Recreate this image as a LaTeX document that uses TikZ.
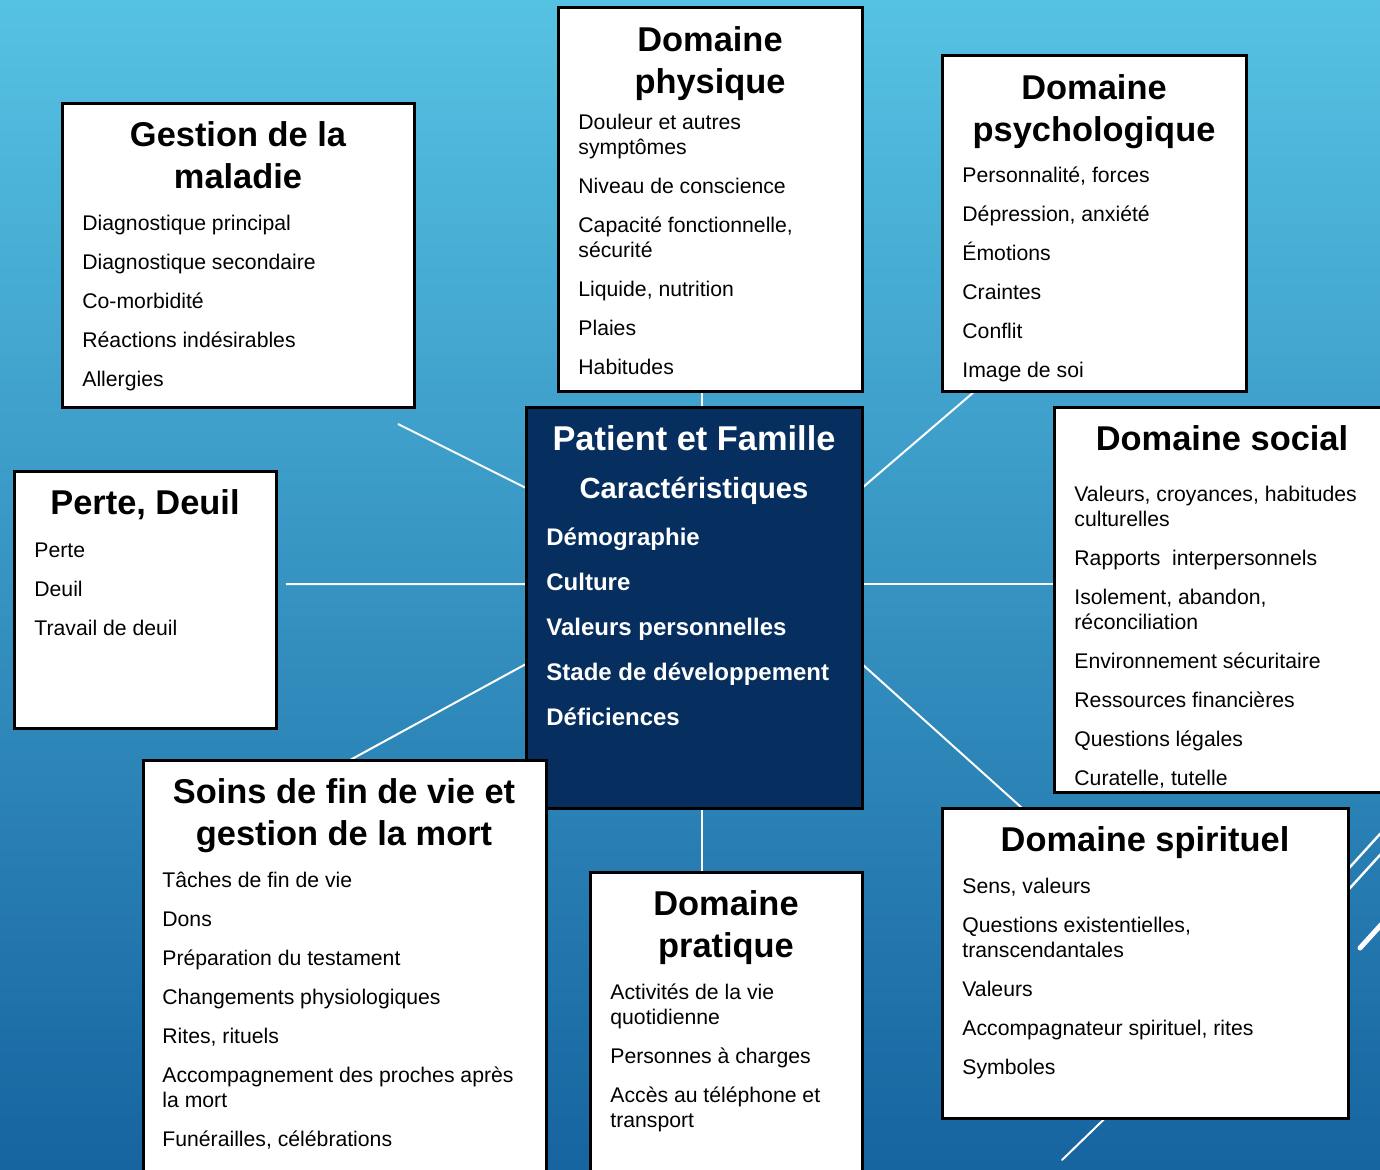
\documentclass[tikz,border=0pt]{standalone}
\usepackage{fontspec}
\setmainfont{Liberation Sans}
\usetikzlibrary{calc}
\pgfdeclarelayer{back}
\pgfdeclarelayer{lines}
\pgfsetlayers{back,lines,main}
\definecolor{bgtop}{RGB}{86,194,227}
\definecolor{bgbot}{RGB}{22,100,160}
\definecolor{navy}{RGB}{6,46,94}
\newcommand\mytitlefont{\fontsize{17.2pt}{21pt}\selectfont\bfseries}
\newcommand\mybodyfont{\fontsize{10.6pt}{12.5pt}\selectfont}
\newcommand\mysubfont{\fontsize{14.6pt}{17pt}\selectfont\bfseries}
\newcommand\mycenterfont{\fontsize{12pt}{22.5pt}\selectfont\bfseries}
\begin{document}
\begin{tikzpicture}[x=0.5pt,y=-0.5pt,
  box/.style={draw=black,line width=1.5pt,fill=white,inner sep=0pt,outer sep=0pt,anchor=north west},
  ctrbox/.style={box,fill=navy},
  ttl/.style={anchor=base,align=center,font=\mytitlefont,inner sep=0pt},
  items/.style={anchor=base west,align=left,font=\mybodyfont,inner sep=0pt},
  conn/.style={draw=white,line width=1pt},
  deco/.style={draw=white,line width=1.2pt}]
\useasboundingbox (0,0) rectangle (1380,1170);
\begin{pgfonlayer}{back}
\shade[top color=bgtop,bottom color=bgbot] (0,0) rectangle (1380,1170);
\end{pgfonlayer}
\clip (0,0) rectangle (1380,1170);
% decorative lines
\draw[deco] (1300,922) -- (1400,812);
\draw[deco] (1300,943) -- (1400,833);
\draw[deco,line width=2.5pt,line cap=round] (1360,948) -- (1400,904);
\draw[deco,line width=1pt,line cap=round] (1062,1160) -- (1130,1094);
% boxes
\node[box,minimum width=176pt,minimum height=152pt] (gest) at (62,104) {};
\node[box,minimum width=152pt,minimum height=192pt] (phys) at (558,8) {};
\node[box,minimum width=152pt,minimum height=168pt] (psy) at (942,56) {};
\node[box,minimum width=168pt,minimum height=192pt] (soc) at (1054,408) {};
\node[box,minimum width=131pt,minimum height=128pt] (perte) at (14,472) {};
\node[ctrbox,minimum width=168pt,minimum height=200pt] (ctr) at (526,408) {};
\node[box,minimum width=201.5pt,minimum height=215pt] (soins) at (143,760) {};
\node[box,minimum width=136pt,minimum height=159pt] (prat) at (590,872) {};
\node[box,minimum width=203pt,minimum height=155pt] (spir) at (942,808) {};
% texts (anchors at the baseline of the last line)
\node[ttl] (gestT) at (238,189) {Gestion de la\\maladie};
\node[items] (gestI) at (82,387) {Diagnostique principal\\[7pt]Diagnostique secondaire\\[7pt]Co-morbidité\\[7pt]Réactions indésirables\\[7pt]Allergies};
\node[ttl] (physT) at (710,94) {Domaine\\physique};
\node[items] (physI) at (578,375) {Douleur et autres\\symptômes\\[7pt]Niveau de conscience\\[7pt]Capacité fonctionnelle,\\sécurité\\[7pt]Liquide, nutrition\\[7pt]Plaies\\[7pt]Habitudes};
\node[ttl] (psyT) at (1094,142) {Domaine\\psychologique};
\node[items] (psyI) at (962,378) {Personnalité, forces\\[7pt]Dépression, anxiété\\[7pt]Émotions\\[7pt]Craintes\\[7pt]Conflit\\[7pt]Image de soi};
\node[ttl] (socT) at (1222,451) {Domaine social};
\node[items] (socI) at (1074,785) {Valeurs, croyances, habitudes\\culturelles\\[7pt]Rapports~ interpersonnels\\[7pt]Isolement, abandon,\\réconciliation\\[7pt]Environnement sécuritaire\\[7pt]Ressources financières\\[7pt]Questions légales\\[7pt]Curatelle, tutelle};
\node[ttl] (perteT) at (145,515) {Perte, Deuil};
\node[items] (perteI) at (34,635) {Perte\\[7pt]Deuil\\[7pt]Travail de deuil};
\node[ttl,text=white] (ctrT) at (694,451) {Patient et Famille};
\node[ttl,text=white,font=\mysubfont] (ctrS) at (694,498) {Caractéristiques};
\node[items,text=white,font=\mycenterfont] (ctrI) at (546,725) {Démographie\\Culture\\Valeurs personnelles\\Stade de développement\\Déficiences};
\node[ttl] (soinsT) at (344,845) {Soins de fin de vie et\\gestion de la mort};
\node[items] (soinsI) at (162,1146) {Tâches de fin de vie\\[7pt]Dons\\[7pt]Préparation du testament\\[7pt]Changements physiologiques\\[7pt]Rites, rituels\\[7pt]Accompagnement des proches après\\la mort\\[7pt]Funérailles, célébrations};
\node[ttl] (pratT) at (726,957) {Domaine\\pratique};
\node[items] (pratI) at (610,1127) {Activités de la vie\\quotidienne\\[7pt]Personnes à charges\\[7pt]Accès au téléphone et\\transport};
\node[ttl] (spirT) at (1145,851) {Domaine spirituel};
\node[items] (spirI) at (962,1074) {Sens, valeurs\\[7pt]Questions existentielles,\\transcendantales\\[7pt]Valeurs\\[7pt]Accompagnateur spirituel, rites\\[7pt]Symboles};
% connectors
\coordinate (gE) at (398,424);
\coordinate (pE) at (286,584);
\coordinate (ctop) at ($(ctr.north west)!0.524!(ctr.north east)$);
\coordinate (cbot) at ($(ctr.south west)!0.524!(ctr.south east)$);
\coordinate (cL1) at ($(ctr.north west)!0.2!(ctr.south west)$);
\coordinate (cL2) at ($(ctr.north west)!0.44!(ctr.south west)$);
\coordinate (cL3) at ($(ctr.north west)!0.64!(ctr.south west)$);
\coordinate (cR1) at ($(ctr.north east)!0.2!(ctr.south east)$);
\coordinate (cR2) at ($(ctr.north east)!0.44!(ctr.south east)$);
\coordinate (cR3) at ($(ctr.north east)!0.64!(ctr.south east)$);
\begin{pgfonlayer}{lines}
\draw[conn] (gE) -- (cL1);
\draw[conn] (ctop) -- (ctop |- phys.south);
\draw[conn] ($(psy.south west)!0.105!(psy.south east)$) -- (cR1);
\draw[conn] (pE) -- (cL2);
\draw[conn] (cR2) -- (cR2 -| soc.west);
\draw[conn] ($(soins.north west)!0.514!(soins.north east)$) -- (cL3);
\draw[conn] ($(spir.north west)!0.197!(spir.north east)$) -- (cR3);
\draw[conn] (cbot) -- (cbot |- prat.north);
\end{pgfonlayer}
\end{tikzpicture}
\end{document}
